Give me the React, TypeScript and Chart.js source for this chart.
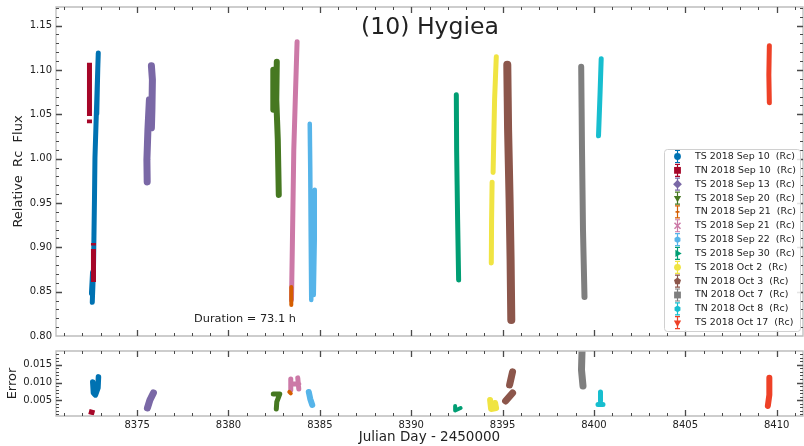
import React, { useEffect, useRef } from 'react';
import { Chart, registerables } from 'chart.js';

Chart.register(...registerables);

const FONT = '"DejaVu Sans", sans-serif';
const TEXT = '#222222';

// ---- axes ----
const X_MIN = 8370.56;
const X_MAX = 8411.44;
const X_TICKS = [8375, 8380, 8385, 8390, 8395, 8400, 8405, 8410];
const FLUX_MIN = 0.8;
const FLUX_MAX = 1.171;
const FLUX_TICKS = [0.8, 0.85, 0.9, 0.95, 1.0, 1.05, 1.1, 1.15];
const ERR_MIN = 0.00056;
const ERR_MAX = 0.0189;
const ERR_TICKS = [0.005, 0.01, 0.015];

const TITLE = '(10) Hygiea';
const DURATION = 'Duration = 73.1 h';

// ---- series ----
const SERIES_NAMES = [
  'TS 2018 Sep 10  (Rc)',
  'TN 2018 Sep 10  (Rc)',
  'TS 2018 Sep 13  (Rc)',
  'TS 2018 Sep 20  (Rc)',
  'TN 2018 Sep 21  (Rc)',
  'TS 2018 Sep 21  (Rc)',
  'TS 2018 Sep 22  (Rc)',
  'TS 2018 Sep 30  (Rc)',
  'TS 2018 Oct 2  (Rc)',
  'TN 2018 Oct 3  (Rc)',
  'TN 2018 Oct 7  (Rc)',
  'TN 2018 Oct 8  (Rc)',
  'TS 2018 Oct 17  (Rc)',
];

// Relative flux streaks (null = gap)
const TS_SEP10_JD = [8372.545, 8372.61, 8372.665, 8372.692, 8372.774, 8372.873, null, 8372.79, 8372.85, null, 8372.5, 8372.56];
const TS_SEP10_FLUX = [0.838, 0.874, 0.9535, 1.001, 1.055, 1.119, null, 1.05, 1.105, null, 0.848, 0.872];
const TN_SEP10_JD = [8372.392, 8372.392, null, 8372.392, 8372.392, null, 8372.61, 8372.61, null, 8372.61, 8372.61];
const TN_SEP10_FLUX = [1.108, 1.048, null, 1.044, 1.04, null, 0.905, 0.902, null, 0.898, 0.861];
const TS_SEP13_JD = [8375.781, 8375.836, 8375.809, 8375.781, null, 8375.672, 8375.59, 8375.535, 8375.551];
const TS_SEP13_FLUX = [1.1047, 1.0889, 1.0551, 1.0348, null, 1.0664, 1.0325, 0.9986, 0.9738];
const TS_SEP20_JD = [8382.643, 8382.616, 8382.698, 8382.752, null, 8382.452, 8382.452];
const TS_SEP20_FLUX = [1.1093, 1.0664, 1.0212, 0.9591, null, 1.1002, 1.0551];
const TN_SEP21_JD = [8383.436, 8383.436];
const TN_SEP21_FLUX = [0.8553, 0.835];
const TS_SEP21_JD = [8383.447, 8383.491, 8383.573, 8383.655, 8383.753];
const TS_SEP21_FLUX = [0.8406, 0.8971, 1.0099, 1.0664, 1.1318];
const TS_SEP22_JD = [8384.447, 8384.474, 8384.502, 8384.529, null, 8384.72, 8384.72, 8384.666];
const TS_SEP22_FLUX = [1.0393, 0.9874, 0.9084, 0.8406, null, 0.9648, 0.9084, 0.8463];
const TS_SEP30_JD = [8392.468, 8392.485, 8392.539, 8392.594];
const TS_SEP30_FLUX = [1.072, 1.0099, 0.9309, 0.8632];
const TS_OCT2_JD = [8394.655, 8394.562, 8394.48, null, 8394.426, 8394.398, 8394.382];
const TS_OCT2_FLUX = [1.1149, 1.0664, 0.9845, null, 0.9735, 0.9309, 0.8824];
const TN_OCT3_JD = [8395.257, 8395.301, 8395.383, 8395.438, 8395.476];
const TN_OCT3_FLUX = [1.1059, 1.0325, 0.9535, 0.8858, 0.8181];
const TN_OCT7_JD = [8399.302, 8399.346, 8399.4, 8399.482];
const TN_OCT7_FLUX = [1.1036, 1.0099, 0.9196, 0.844];
const TN_OCT8_JD = [8400.396, 8400.331, 8400.249];
const TN_OCT8_FLUX = [1.1126, 1.072, 1.0257];
const TS_OCT17_JD = [8409.598, 8409.571, 8409.598];
const TS_OCT17_FLUX = [1.1273, 1.0946, 1.063];

// Error blobs (null = gap)
const TS_SEP10_ERR_JD = [8372.572, 8372.61, 8372.72, 8372.856, 8372.884];
const TS_SEP10_ERR = [0.01018, 0.00707, 0.0065, 0.00848, 0.0116];
const TN_SEP10_ERR_JD = [8372.364, 8372.665];
const TN_SEP10_ERR = [0.00183, 0.0014];
const TS_SEP13_ERR_JD = [8375.891, 8375.7, 8375.563];
const TS_SEP13_ERR = [0.00707, 0.00508, 0.00282];
const TS_SEP20_ERR_JD = [8382.452, 8382.807, 8382.643, 8382.616];
const TS_SEP20_ERR = [0.00678, 0.00678, 0.00452, 0.00254];
const TN_SEP21_ERR_JD = [8383.327, 8383.408];
const TN_SEP21_ERR = [0.00735, 0.00693];
const TS_SEP21_ERR_JD = [8383.408, 8383.408, null, 8383.572, 8383.846, null, 8383.791, 8383.846];
const TS_SEP21_ERR = [0.01103, 0.00792, null, 0.00962, 0.00962, null, 0.01132, 0.0082];
const TS_SEP22_ERR_JD = [8384.393, 8384.474, 8384.584];
const TS_SEP22_ERR = [0.00735, 0.00537, 0.00367];
const TS_SEP30_ERR_JD = [8392.403, 8392.403, 8392.703];
const TS_SEP30_ERR = [0.00339, 0.00211, 0.00282];
const TS_OCT2_ERR_JD = [8394.316, 8394.371, 8394.644, 8394.589];
const TS_OCT2_ERR = [0.00508, 0.00254, 0.00282, 0.00424];
const TN_OCT3_ERR_JD = [8395.546, 8395.382, null, 8395.546, 8395.164];
const TN_OCT3_ERR = [0.01302, 0.00933, null, 0.00707, 0.0048];
const TN_OCT7_ERR_JD = [8399.346, 8399.346, 8399.318, 8399.4];
const TN_OCT7_ERR = [0.0205, 0.01868, 0.01358, 0.00905];
const TN_OCT8_ERR_JD = [8400.358, 8400.358, null, 8400.221, 8400.494];
const TN_OCT8_ERR = [0.00735, 0.0048, null, 0.00381, 0.00381];
const TS_OCT17_ERR_JD = [8409.598, 8409.598, 8409.516];
const TS_OCT17_ERR = [0.01132, 0.0065, 0.00339];

const FLUX_JD = [TS_SEP10_JD, TN_SEP10_JD, TS_SEP13_JD, TS_SEP20_JD, TN_SEP21_JD, TS_SEP21_JD, TS_SEP22_JD, TS_SEP30_JD, TS_OCT2_JD, TN_OCT3_JD, TN_OCT7_JD, TN_OCT8_JD, TS_OCT17_JD];
const FLUX_VALUES = [TS_SEP10_FLUX, TN_SEP10_FLUX, TS_SEP13_FLUX, TS_SEP20_FLUX, TN_SEP21_FLUX, TS_SEP21_FLUX, TS_SEP22_FLUX, TS_SEP30_FLUX, TS_OCT2_FLUX, TN_OCT3_FLUX, TN_OCT7_FLUX, TN_OCT8_FLUX, TS_OCT17_FLUX];
const ERR_JD = [TS_SEP10_ERR_JD, TN_SEP10_ERR_JD, TS_SEP13_ERR_JD, TS_SEP20_ERR_JD, TN_SEP21_ERR_JD, TS_SEP21_ERR_JD, TS_SEP22_ERR_JD, TS_SEP30_ERR_JD, TS_OCT2_ERR_JD, TN_OCT3_ERR_JD, TN_OCT7_ERR_JD, TN_OCT8_ERR_JD, TS_OCT17_ERR_JD];
const ERR_VALUES = [TS_SEP10_ERR, TN_SEP10_ERR, TS_SEP13_ERR, TS_SEP20_ERR, TN_SEP21_ERR, TS_SEP21_ERR, TS_SEP22_ERR, TS_SEP30_ERR, TS_OCT2_ERR, TN_OCT3_ERR, TN_OCT7_ERR, TN_OCT8_ERR, TS_OCT17_ERR];

// ---- styles ----
const COLORS = ['#0072B2', '#A60628', '#7A68A6', '#467821', '#D55E00', '#CC79A7', '#56B4E9', '#009E73', '#F0E442', '#8C564B', '#7F7F7F', '#17BECF', '#EE4127'];
const FLUX_WIDTHS = [5, 5, 7, 6, 4, 5, 4.5, 5, 5, 8, 6, 5, 5];
const ERR_WIDTHS = [5.5, 5, 7, 5, 4, 5, 6, 4, 6, 7, 7, 5, 6];
const CAPS = ['round', 'butt', 'round', 'round', 'round', 'round', 'round', 'round', 'round', 'round', 'round', 'round', 'round'];
const Z_ORDER = [13, 1, 11, 10, 0, 8, 7, 6, 5, 4, 3, 2, 1];
const MARKERS = ['circle', 'square', 'diamond', 'triDown', 'tick', 'cross', 'hexagon', 'triRight', 'circle', 'pentagon', 'square', 'hexagon', 'triDown'];

function buildPoints(xs: (number | null)[], ys: (number | null)[]) {
  const pts: { x: number; y: number | null }[] = [];
  let lastX = xs.find((v) => v !== null) as number;
  xs.forEach((x, i) => {
    const y = ys[i];
    if (x === null || y === null) {
      pts.push({ x: lastX, y: null });
    } else {
      lastX = x;
      pts.push({ x, y });
    }
  });
  return pts;
}

function buildDatasets(xsList: (number | null)[][], ysList: (number | null)[][], widths: number[]) {
  return xsList.map((xs, i) => ({
    label: SERIES_NAMES[i],
    data: buildPoints(xs, ysList[i]),
    borderColor: COLORS[i],
    backgroundColor: COLORS[i],
    borderWidth: widths[i],
    borderCapStyle: CAPS[i],
    borderJoinStyle: 'round',
    pointRadius: 0,
    tension: 0.0001,
    spanGaps: false,
    fill: false,
    clip: 0,
    order: Z_ORDER[i],
  }));
}

function range(a: number, b: number) {
  const out: number[] = [];
  for (let i = a; i <= b; i++) out.push(i);
  return out;
}

function fitFont(ctx: CanvasRenderingContext2D, text: string, target: number, base: number) {
  ctx.font = `${base}px ${FONT}`;
  const w = ctx.measureText(text).width;
  const size = w > 0 ? (base * target) / w : base;
  ctx.font = `${size}px ${FONT}`;
  return size;
}

function makeFramePlugin(xMajor: number[], xMinor: number[], yMajor: number[], yMinor: number[]) {
  return {
    id: 'frameTicks',
    afterDatasetsDraw(chart: any) {
      const { ctx, chartArea } = chart;
      const { left, right, top, bottom } = chartArea;
      const xs = chart.scales.x;
      const ys = chart.scales.y;
      ctx.save();
      ctx.beginPath();
      ctx.rect(left, top, right - left, bottom - top);
      ctx.strokeStyle = '#bdbdbd';
      ctx.lineWidth = 1.3;
      ctx.stroke();
      const drawX = (vals: number[], len: number, w: number) => {
        ctx.lineWidth = w;
        ctx.beginPath();
        vals.forEach((v) => {
          const px = Math.round(xs.getPixelForValue(v)) + 0.5;
          if (px < left || px > right) return;
          ctx.moveTo(px, bottom);
          ctx.lineTo(px, bottom - len);
          ctx.moveTo(px, top);
          ctx.lineTo(px, top + len);
        });
        ctx.stroke();
      };
      const drawY = (vals: number[], len: number, w: number) => {
        ctx.lineWidth = w;
        ctx.beginPath();
        vals.forEach((v) => {
          const py = Math.round(ys.getPixelForValue(v)) + 0.5;
          if (py < top || py > bottom) return;
          ctx.moveTo(left, py);
          ctx.lineTo(left + len, py);
          ctx.moveTo(right, py);
          ctx.lineTo(right - len, py);
        });
        ctx.stroke();
      };
      ctx.strokeStyle = '#4a4a4a';
      drawX(xMinor, 3, 1);
      drawX(xMajor, 6, 1.3);
      drawY(yMinor, 3, 1);
      drawY(yMajor, 6, 1.3);
      ctx.restore();
    },
  };
}

function drawMarker(ctx: CanvasRenderingContext2D, shape: string, x: number, y: number, color: string) {
  ctx.save();
  ctx.strokeStyle = color;
  ctx.fillStyle = color;
  ctx.lineWidth = 1.2;
  ctx.beginPath();
  ctx.moveTo(x, y - 6);
  ctx.lineTo(x, y + 6);
  ctx.moveTo(x - 2.5, y - 6);
  ctx.lineTo(x + 2.5, y - 6);
  ctx.moveTo(x - 2.5, y + 6);
  ctx.lineTo(x + 2.5, y + 6);
  ctx.stroke();
  const r = 3.4;
  const poly = (n: number, rot: number, rr: number) => {
    ctx.beginPath();
    for (let k = 0; k < n; k++) {
      const a = rot + (k * 2 * Math.PI) / n;
      const px = x + rr * Math.cos(a);
      const py = y + rr * Math.sin(a);
      if (k === 0) ctx.moveTo(px, py);
      else ctx.lineTo(px, py);
    }
    ctx.closePath();
    ctx.fill();
  };
  switch (shape) {
    case 'circle':
      ctx.beginPath();
      ctx.arc(x, y, r, 0, Math.PI * 2);
      ctx.fill();
      break;
    case 'square':
      ctx.fillRect(x - r, y - r, 2 * r, 2 * r);
      break;
    case 'diamond':
      poly(4, -Math.PI / 2, r + 1);
      break;
    case 'triDown':
      poly(3, Math.PI / 2, r + 0.8);
      break;
    case 'triRight':
      poly(3, 0, r + 0.8);
      break;
    case 'hexagon':
      poly(6, -Math.PI / 2, r);
      break;
    case 'pentagon':
      poly(5, -Math.PI / 2, r + 0.3);
      break;
    case 'tick':
      ctx.lineWidth = 1.6;
      ctx.beginPath();
      ctx.moveTo(x - 2, y);
      ctx.lineTo(x + 2, y);
      ctx.stroke();
      break;
    case 'cross':
      ctx.lineWidth = 1.5;
      ctx.beginPath();
      ctx.moveTo(x - 3, y - 3);
      ctx.lineTo(x + 3, y + 3);
      ctx.moveTo(x + 3, y - 3);
      ctx.lineTo(x - 3, y + 3);
      ctx.stroke();
      break;
  }
  ctx.restore();
}

const legendPlugin = {
  id: 'customLegend',
  afterDraw(chart: any) {
    const { ctx } = chart;
    ctx.save();
    const bx = 664.5, by = 149.5, bw = 136, bh = 182, rad = 3;
    ctx.beginPath();
    ctx.moveTo(bx + rad, by);
    ctx.lineTo(bx + bw - rad, by);
    ctx.quadraticCurveTo(bx + bw, by, bx + bw, by + rad);
    ctx.lineTo(bx + bw, by + bh - rad);
    ctx.quadraticCurveTo(bx + bw, by + bh, bx + bw - rad, by + bh);
    ctx.lineTo(bx + rad, by + bh);
    ctx.quadraticCurveTo(bx, by + bh, bx, by + bh - rad);
    ctx.lineTo(bx, by + rad);
    ctx.quadraticCurveTo(bx, by, bx + rad, by);
    ctx.closePath();
    ctx.fillStyle = 'rgba(255,255,255,0.85)';
    ctx.fill();
    ctx.strokeStyle = '#d0d0d0';
    ctx.lineWidth = 1;
    ctx.stroke();
    SERIES_NAMES.forEach((name, i) => {
      const y = 156.5 + i * 13.85;
      drawMarker(ctx, MARKERS[i], 677.5, y, COLORS[i]);
    });
    const size = fitFont(ctx, SERIES_NAMES[0], 100, 9.5);
    ctx.font = `${size}px ${FONT}`;
    ctx.textBaseline = 'middle';
    ctx.textAlign = 'left';
    ctx.fillStyle = TEXT;
    SERIES_NAMES.forEach((name, i) => {
      const y = 156.5 + i * 13.85;
      ctx.fillText(name, 695, y);
    });
    ctx.restore();
  },
};

const textPlugin = {
  id: 'texts',
  afterDraw(chart: any) {
    const { ctx } = chart;
    ctx.save();
    ctx.fillStyle = TEXT;
    fitFont(ctx, TITLE, 138, 23);
    ctx.textAlign = 'center';
    ctx.textBaseline = 'middle';
    ctx.fillText(TITLE, 430, 27.5);
    fitFont(ctx, DURATION, 102, 11.3);
    ctx.textAlign = 'left';
    ctx.fillText(DURATION, 194, 319.5);
    ctx.restore();
  },
};

const X_MINOR = range(Math.ceil(X_MIN), Math.floor(X_MAX)).filter((v) => v % 5 !== 0);
const FLUX_MINOR = range(80, 117).filter((v) => v % 5 !== 0).map((v) => v / 100);
const ERR_MINOR = range(1, 18).filter((v) => v % 5 !== 0).map((v) => v / 1000);

export default function App() {
  const topRef = useRef<HTMLCanvasElement>(null);
  const botRef = useRef<HTMLCanvasElement>(null);

  useEffect(() => {
    const top = new Chart(topRef.current as HTMLCanvasElement, {
      type: 'line',
      data: { datasets: buildDatasets(FLUX_JD, FLUX_VALUES, FLUX_WIDTHS) as any },
      options: {
        animation: false,
        responsive: false,
        events: [],
        layout: { padding: { top: 7, right: 1, bottom: 9, left: 0 } },
        plugins: { legend: { display: false }, tooltip: { enabled: false }, title: { display: false } },
        scales: {
          x: { type: 'linear', min: X_MIN, max: X_MAX, display: false },
          y: {
            type: 'linear',
            min: FLUX_MIN,
            max: FLUX_MAX,
            afterFit: (s: any) => {
              s.width = 56;
            },
            afterBuildTicks: (s: any) => {
              s.ticks = FLUX_TICKS.map((v) => ({ value: v }));
            },
            ticks: {
              callback: (v: any) => Number(v).toFixed(2),
              font: { family: FONT, size: 10 },
              color: TEXT,
              padding: 0,
            },
            grid: { display: false, drawTicks: true, tickLength: 4 },
            border: { display: false },
            title: {
              display: true,
              text: 'Relative  Rc  Flux',
              font: { family: FONT, size: 13 },
              color: TEXT,
              padding: { top: 10.7, bottom: 0 },
            },
          },
        },
      } as any,
      plugins: [makeFramePlugin(X_TICKS, X_MINOR, FLUX_TICKS, FLUX_MINOR), legendPlugin, textPlugin],
    });

    const bot = new Chart(botRef.current as HTMLCanvasElement, {
      type: 'line',
      data: { datasets: buildDatasets(ERR_JD, ERR_VALUES, ERR_WIDTHS) as any },
      options: {
        animation: false,
        responsive: false,
        events: [],
        layout: { padding: { top: 6, right: 1, bottom: 0, left: 0 } },
        plugins: { legend: { display: false }, tooltip: { enabled: false }, title: { display: false } },
        scales: {
          x: {
            type: 'linear',
            min: X_MIN,
            max: X_MAX,
            afterFit: (s: any) => {
              s.height = 30;
            },
            afterBuildTicks: (s: any) => {
              s.ticks = X_TICKS.map((v) => ({ value: v }));
            },
            ticks: {
              callback: (v: any) => String(v),
              font: { family: FONT, size: 10 },
              color: TEXT,
              padding: 3,
              maxRotation: 0,
            },
            grid: { display: false, drawTicks: false },
            border: { display: false },
            title: {
              display: true,
              text: 'Julian Day - 2450000',
              font: { family: FONT, size: 13.5 },
              color: TEXT,
              padding: { top: 0, bottom: 0 },
            },
          },
          y: {
            type: 'linear',
            min: ERR_MIN,
            max: ERR_MAX,
            afterFit: (s: any) => {
              s.width = 56;
            },
            afterBuildTicks: (s: any) => {
              s.ticks = ERR_TICKS.map((v) => ({ value: v }));
            },
            ticks: {
              callback: (v: any) => Number(v).toFixed(3),
              font: { family: FONT, size: 10 },
              color: TEXT,
              padding: 0,
            },
            grid: { display: false, drawTicks: true, tickLength: 4 },
            border: { display: false },
            title: {
              display: true,
              text: 'Error',
              font: { family: FONT, size: 13 },
              color: TEXT,
              padding: { top: 5, bottom: 0 },
            },
          },
        },
      } as any,
      plugins: [makeFramePlugin(X_TICKS, X_MINOR, ERR_TICKS, ERR_MINOR)],
    });

    return () => {
      top.destroy();
      bot.destroy();
    };
  }, []);

  return (
    <div style={{ position: 'absolute', left: 0, top: 0, width: 804, height: 446, background: '#ffffff' }}>
      <canvas ref={topRef} width={804} height={345} style={{ position: 'absolute', left: 0, top: 0, width: 804, height: 345 }} />
      <canvas ref={botRef} width={804} height={101} style={{ position: 'absolute', left: 0, top: 345, width: 804, height: 101 }} />
    </div>
  );
}
